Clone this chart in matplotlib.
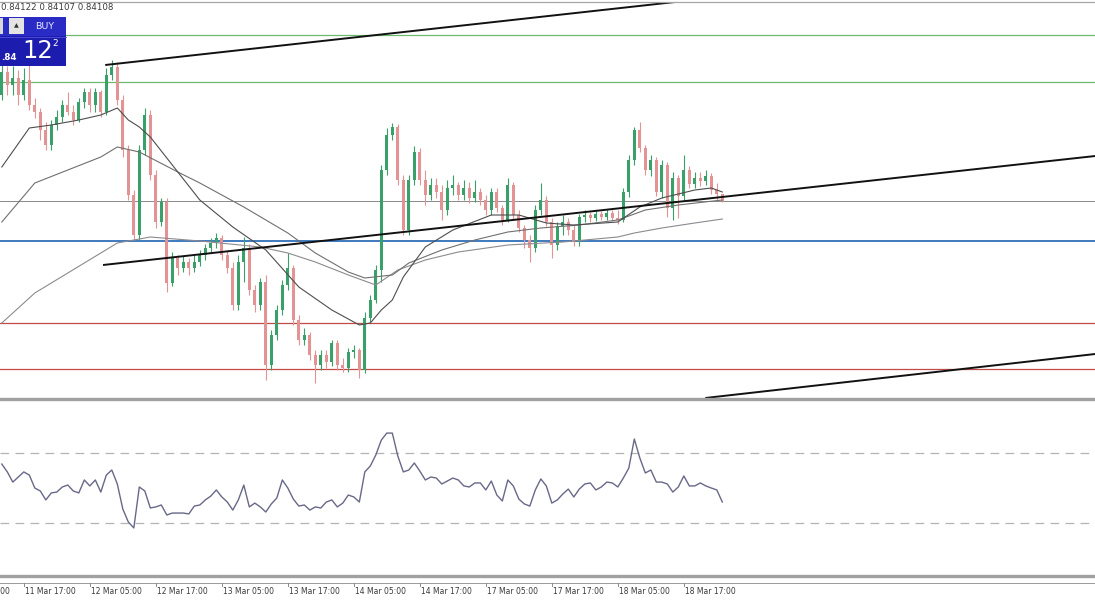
import numpy as np
import matplotlib
matplotlib.use("Agg")
import matplotlib.pyplot as plt
from matplotlib.patches import Rectangle
from matplotlib.lines import Line2D
from matplotlib import transforms

plt.rcParams['font.family'] = ['DejaVu Sans']

W, H = 1095, 600

# hourly candles, bar 0 = 11 Mar 13:00 (open of each bar = close of the previous one)
open_first = 0.84320
closes = [
    84366, 84340, 84354, 84320, 84350, 84300, 84286, 84250, 84220, 84260,
    84276, 84300, 84286, 84270, 84306, 84326, 84300, 84326, 84286, 84360,
    84376, 84310, 84210, 84120, 84040, 84210, 84280, 84160, 84066, 84106,
    83944, 83994, 83974, 83986, 83974, 83986, 84000, 84014, 84024, 84034,
    84000, 83974, 83900, 83986, 84014, 83930, 83900, 83946, 83780, 83840,
    83890, 83940, 83974, 83870, 83830, 83840, 83800, 83780, 83800, 83786,
    83824, 83780, 83774, 83806, 83810, 83770, 83874, 83910, 83970, 84170,
    84240, 84256, 84150, 84050, 84150, 84206, 84150, 84120, 84140, 84126,
    84090, 84134, 84140, 84120, 84134, 84114, 84126, 84110, 84090, 84126,
    84094, 84070, 84140, 84080, 84054, 84030, 84014, 84090, 84110, 84066,
    84020, 84058, 84066, 84050, 84026, 84076, 84080, 84074, 84082, 84076,
    84084, 84074, 84070, 84126, 84190, 84250, 84214, 84170, 84190, 84126,
    84180, 84094, 84154, 84118, 84170, 84142, 84154, 84148, 84158, 84130,
    84122, 84108]
highs = [
    84386, 84378, 84378, 84370, 84374, 84380, 84314, 84294, 84266, 84270,
    84290, 84310, 84326, 84300, 84314, 84334, 84334, 84334, 84330, 84374,
    84390, 84386, 84320, 84220, 84130, 84220, 84294, 84290, 84170, 84114,
    84114, 84006, 84000, 83998, 83994, 84000, 84010, 84022, 84034, 84044,
    84040, 84010, 83986, 84000, 84036, 84022, 83940, 83954, 83960, 83850,
    83900, 83950, 84004, 83980, 83880, 83854, 83846, 83810, 83810, 83810,
    83830, 83830, 83794, 83814, 83820, 83814, 83886, 83920, 83980, 84180,
    84254, 84264, 84262, 84160, 84160, 84218, 84214, 84170, 84154, 84154,
    84140, 84150, 84160, 84146, 84150, 84146, 84150, 84134, 84120, 84134,
    84134, 84100, 84154, 84146, 84090, 84060, 84040, 84100, 84144, 84118,
    84074, 84066, 84080, 84074, 84060, 84082, 84090, 84086, 84090, 84088,
    84092, 84090, 84090, 84134, 84200, 84256, 84266, 84220, 84200, 84196,
    84190, 84186, 84166, 84160, 84200, 84178, 84166, 84166, 84170, 84164,
    84144, 84122]
lows = [
    84310, 84320, 84320, 84300, 84310, 84290, 84274, 84230, 84210, 84210,
    84250, 84266, 84280, 84260, 84266, 84294, 84286, 84286, 84276, 84280,
    84350, 84300, 84196, 84110, 84030, 84030, 84200, 84150, 84054, 84058,
    83926, 83938, 83960, 83966, 83960, 83966, 83978, 83990, 84006, 84014,
    83990, 83964, 83890, 83890, 83946, 83920, 83886, 83890, 83750, 83770,
    83830, 83880, 83930, 83860, 83820, 83820, 83790, 83744, 83770, 83774,
    83778, 83770, 83766, 83766, 83794, 83754, 83764, 83866, 83904, 83946,
    84160, 84230, 84140, 84040, 84040, 84140, 84140, 84100, 84110, 84114,
    84070, 84080, 84120, 84110, 84110, 84104, 84106, 84100, 84080, 84080,
    84086, 84060, 84066, 84070, 84046, 84014, 83986, 84006, 84080, 84058,
    83994, 84010, 84040, 84040, 84018, 84018, 84066, 84066, 84068, 84070,
    84070, 84068, 84062, 84066, 84116, 84180, 84206, 84160, 84158, 84118,
    84114, 84076, 84070, 84074, 84110, 84134, 84134, 84138, 84140, 84122,
    84110, 84107]

rsi = [
    63.4, 58.9, 53.1, 56.0, 58.9, 57.1, 49.7, 48.0, 42.9, 46.9,
    47.4, 50.3, 51.4, 48.0, 46.9, 54.3, 50.9, 54.3, 47.4, 57.1,
    60.0, 52.0, 37.7, 30.3, 26.9, 50.3, 48.0, 38.3, 38.9, 40.0,
    34.3, 35.4, 35.4, 35.4, 34.9, 39.4, 40.0, 42.9, 45.1, 48.6,
    44.6, 41.7, 37.1, 42.9, 51.4, 38.9, 41.1, 38.9, 36.0, 40.6,
    44.0, 54.3, 49.7, 43.4, 39.4, 40.0, 37.1, 38.9, 38.3, 41.7,
    42.9, 38.9, 41.1, 45.7, 44.6, 41.7, 58.9, 62.3, 68.6, 77.1,
    81.1, 81.1, 68.0, 58.9, 60.0, 64.0, 59.4, 54.3, 56.0, 55.4,
    52.0, 53.7, 55.4, 54.3, 50.9, 50.3, 52.6, 52.6, 48.6, 53.7,
    45.7, 42.3, 54.3, 50.9, 43.4, 40.6, 39.4, 48.6, 54.9, 50.9,
    41.1, 42.9, 46.3, 49.1, 44.6, 49.1, 52.0, 52.6, 48.6, 50.3,
    53.1, 52.6, 50.3, 55.4, 61.1, 77.7, 66.9, 58.3, 60.0, 53.1,
    53.1, 52.0, 47.4, 50.3, 56.6, 50.9, 50.9, 52.6, 50.9, 49.7,
    48.6, 41.7]
rsi_levels = [70, 30]

# moving averages, read at a handful of bars
ma_fast_bars = [0, 5, 9, 14, 18, 21, 23, 25, 27, 32, 36, 42, 48, 54, 60, 65,
                67, 69, 71, 73, 77, 82, 89, 94, 99, 104, 112, 116, 120, 126, 129, 131]
ma_fast = [0.84176, 0.84254, 0.84260, 0.84270, 0.84280, 0.84294, 0.84270, 0.84256,
           0.84236, 0.84166, 0.84110, 0.84056, 0.84010, 0.83936, 0.83890, 0.83860,
           0.83864, 0.83890, 0.83910, 0.83956, 0.84016, 0.84050, 0.84080, 0.84080,
           0.84064, 0.84060, 0.84066, 0.84096, 0.84114, 0.84130, 0.84134, 0.84126]
ma_mid_bars = [0, 6, 12, 18, 21, 25, 32, 36, 44, 52, 57, 63, 66, 71, 74, 80,
               86, 92, 98, 105, 112, 117, 123, 131]
ma_mid = [0.84066, 0.84144, 0.84170, 0.84196, 0.84216, 0.84206, 0.84166, 0.84144,
          0.84096, 0.84044, 0.84004, 0.83966, 0.83954, 0.83960, 0.83984, 0.84010,
          0.84030, 0.84046, 0.84054, 0.84060, 0.84070, 0.84090, 0.84100, 0.84110]
ma_slow_bars = [0, 6, 12, 18, 21, 27, 36, 47, 52, 57, 63, 68, 72, 77, 83, 92,
                102, 112, 115, 120, 126, 131]
ma_slow = [0.83864, 0.83924, 0.83964, 0.84004, 0.84024, 0.84036, 0.84028, 0.84016,
           0.84004, 0.83986, 0.83960, 0.83940, 0.83970, 0.83990, 0.84006, 0.84020,
           0.84026, 0.84036, 0.84044, 0.84054, 0.84064, 0.84072]

levels_green = [0.84440, 0.84346]
level_bid = 0.84108
level_blue = 0.84028
levels_red = [0.83864, 0.83772]

# trendlines: start/end bar and price
trend_bars = [[18.8, 122.4], [18.4, 198.8], [127.9, 198.8]]
trend_prices = [[0.84380, 0.84506], [0.83980, 0.84198], [0.83714, 0.83802]]

tick_bars = [-8, 4, 16, 28, 40, 52, 64, 76, 88, 100, 112, 124]
tick_labels = ["11 Mar 05:00", "11 Mar 17:00", "12 Mar 05:00", "12 Mar 17:00",
               "13 Mar 05:00", "13 Mar 17:00", "14 Mar 05:00", "14 Mar 17:00",
               "17 Mar 05:00", "17 Mar 17:00", "18 Mar 05:00", "18 Mar 17:00"]

header_text = "0.84122 0.84107 0.84108"


def fy(py):
    return 1 - py / H


def px_rect(x, y, w, h, **kw):
    fig.add_artist(Rectangle((x / W, fy(y + h)), w / W, h / H,
                             transform=fig.transFigure, **kw))


def px_hline(y, x0=0, x1=W, **kw):
    fig.add_artist(Line2D([x0 / W, x1 / W], [fy(y), fy(y)],
                          transform=fig.transFigure, **kw))


fig = plt.figure(figsize=(W / 100, H / 100), dpi=100)
fig.patch.set_facecolor('white')

xlim = (-0.33, 198.76)
ax = fig.add_axes([0, fy(398), 1, 396 / H])
ax.set_xlim(*xlim)
ax.set_ylim(0.83714, 0.84506)
ax.axis('off')

for lv in levels_green:
    ax.axhline(lv, color='#6cbb6c', lw=0.9)
ax.axhline(level_bid, color='#8a8a8a', lw=0.7)
ax.axhline(level_blue, color='#2f6fba', lw=1.3)
for lv in levels_red:
    ax.axhline(lv, color='#c44a4a', lw=0.9)

# candles
c = np.array(closes) / 1e5
hi = np.array(highs) / 1e5
lo = np.array(lows) / 1e5
o = np.r_[open_first, c[:-1]]
bars = np.arange(len(c))
up = c >= o
cols = np.where(up, '#38a068', '#e39393')
ax.vlines(bars, lo, hi, colors=cols, lw=0.8, zorder=3)
body_lo = np.minimum(o, c)
body_h = np.maximum(np.abs(c - o), 0.000012)
ax.bar(bars, body_h, bottom=body_lo, width=0.55, color=cols, lw=0, zorder=4)

ax.plot(ma_slow_bars, ma_slow, color='#8e8a90', lw=0.8, zorder=5)
ax.plot(ma_mid_bars, ma_mid, color='#707070', lw=0.8, zorder=5)
ax.plot(ma_fast_bars, ma_fast, color='#4e4e4e', lw=0.8, zorder=5)

for tb, tp in zip(trend_bars, trend_prices):
    ax.plot(tb, tp, color='#111111', lw=1.4, zorder=6, solid_capstyle='butt')

# RSI panel
axr = fig.add_axes([0, fy(575), 1, 175 / H])
axr.set_xlim(*xlim)
axr.set_ylim(0, 100)
axr.axis('off')
for lv in rsi_levels:
    axr.axhline(lv, color='#b4b4b4', lw=0.9, dashes=(7, 5))
axr.plot(bars, rsi, color='#686888', lw=1.0)

# frame lines
px_hline(2, color='#a6a6a6', lw=0.9)
px_hline(399, color='#a0a0a0', lw=2.4)
px_hline(576, color='#a0a0a0', lw=2.4)
px_hline(582.5, color='#9a9a9a', lw=0.7)

trans = transforms.blended_transform_factory(axr.transData, fig.transFigure)
for tb, tl in zip(tick_bars, tick_labels):
    fig.add_artist(Line2D([tb, tb], [fy(582.5), fy(586)], transform=trans,
                          color='#8a8a8a', lw=0.7))
    # the first label runs off the left edge, as in the reference
    fig.text(tb + 0.15, fy(592), tl, transform=trans, fontsize=5.5,
             color='#3a3a3a', ha='left', va='center')

# header
fig.text(1 / W, fy(8), header_text, fontsize=6.2, color='#3a3a3a',
         ha='left', va='center')

# one-click trading panel
px_rect(0, 17, 66, 49, color='#1c1cae', lw=0, zorder=10)
px_rect(0, 17, 66, 19, color='#2a2ac4', lw=0, zorder=10)
px_rect(0, 18, 3, 16, color='#d8d8d8', lw=0, zorder=11)
px_rect(9, 18, 15, 16, color='#e4e4e4', lw=0, zorder=11)
fig.text(16.5 / W, fy(25.5), '\u25b2', fontsize=4.5, color='#303030',
         ha='center', va='center', zorder=12)
fig.text(45 / W, fy(26.5), 'BUY', fontsize=6.8, color='#e8e8ff',
         ha='center', va='center', zorder=12)
px_hline(36.5, 0, 66, color='#5050d8', lw=0.6, zorder=11)
fig.text(1 / W, fy(57), '.84', fontsize=6.3, color='white', fontweight='bold',
         ha='left', va='center', zorder=12)
fig.text(22 / W, fy(51), '12', fontsize=17.5, color='white',
         ha='left', va='center', zorder=12)
fig.text(52 / W, fy(44), '2', fontsize=6.5, color='white',
         ha='left', va='center', zorder=12)

fig.savefig('out.png', dpi=100, facecolor='white')
